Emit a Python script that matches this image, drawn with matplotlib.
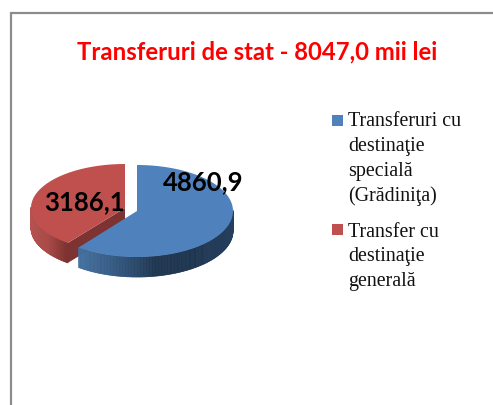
import numpy as np
import matplotlib
matplotlib.use("Agg")
import matplotlib.pyplot as plt
from matplotlib.collections import PolyCollection
from matplotlib.colors import LinearSegmentedColormap

title = "Transferuri de stat - 8047,0 mii lei"
values = [4860.9, 3186.1]
value_labels = ["4860,9", "3186,1"]
legend_lines = [["Transferuri cu", "destinaţie", "specială", "(Grădiniţa)"],
                ["Transfer cu", "destinaţie", "generală"]]
colors = ["#4F81BD", "#C0504D"]

fig = plt.figure(figsize=(4.93, 4.05), dpi=100)
ax = fig.add_axes([0, 0, 1, 1])
ax.set_xlim(0, 493)
ax.set_ylim(405, 0)
ax.axis("off")

# frame
ax.plot([11, 11, 493], [405, 12.5, 12.5], color="#8c8c8c", lw=1.6, solid_joinstyle="miter")

fr = np.cumsum([0] + values) / sum(values) * 2 * np.pi
depth = 20
geom = [dict(cx=137, cy=211, rx=96, ry=46), dict(cx=125, cy=208, rx=94, ry=44)]


def pt(g, a):
    return g["cx"] + g["rx"] * np.sin(a), g["cy"] - g["ry"] * np.cos(a)


def side(g, a0, a1, cmap, xmin, xmax):
    aa = np.linspace(a0, a1, 240)
    x, y = pt(g, aa)
    polys, cols = [], []
    for i in range(len(aa) - 1):
        if np.cos((aa[i] + aa[i + 1]) / 2) > 0.02:
            continue
        polys.append([(x[i], y[i]), (x[i + 1], y[i + 1]),
                      (x[i + 1], y[i + 1] + depth), (x[i], y[i] + depth)])
        cols.append(cmap((x[i] - xmin) / (xmax - xmin)))
    ax.add_collection(PolyCollection(polys, facecolors=cols, edgecolors=cols, linewidths=0.5))


# red slice
g = geom[1]
a0, a1 = fr[1], fr[2]
redmap = LinearSegmentedColormap.from_list("r", ["#B55250", "#A84A47", "#7C3230"])
side(g, a0, a1, redmap, g["cx"] - g["rx"], g["cx"] - g["rx"] + 36)
tx, ty = pt(g, a0)
ax.fill([g["cx"], tx, tx, g["cx"]], [g["cy"], ty, ty + depth, g["cy"] + depth],
        color="#7D3331", lw=0)
aa = np.linspace(a0, a1, 200)
x, y = pt(g, aa)
ax.fill(np.r_[g["cx"], x], np.r_[g["cy"], y], color=colors[1], lw=0)

# blue slice
g = geom[0]
a0, a1 = fr[0], fr[1]
bluemap = LinearSegmentedColormap.from_list("b", ["#44709F", "#32577F", "#1F3650", "#1E3550", "#263F5E"])
side(g, a0, a1, bluemap, tx + 12, g["cx"] + g["rx"])
aa = np.linspace(a0, a1, 300)
x, y = pt(g, aa)
ax.fill(np.r_[g["cx"], x], np.r_[g["cy"], y], color=colors[0], lw=0)

# texts
ax.text(257, 59, title, color="#FF0000", family="Lato", weight="bold", fontsize=17.2,
        ha="center", va="baseline")
ax.text(203, 190, value_labels[0], color="black", family="Lato", weight="bold", fontsize=18.5,
        ha="center", va="baseline")
ax.text(84.5, 210, value_labels[1], color="black", family="Lato", weight="bold", fontsize=18.5,
        ha="center", va="baseline")

baselines = [[126, 151, 176, 201], [237, 261, 286]]
squares = [115, 224]
for lines, bases, sq, c in zip(legend_lines, baselines, squares, colors):
    ax.fill([332, 343, 343, 332], [sq, sq, sq + 11, sq + 11], color=c, lw=0)
    for ln, b in zip(lines, bases):
        ax.text(348, b, ln, family="Liberation Serif", fontsize=14.4, color="#111111",
                ha="left", va="baseline")

fig.savefig("out.png", dpi=100, facecolor="white")
